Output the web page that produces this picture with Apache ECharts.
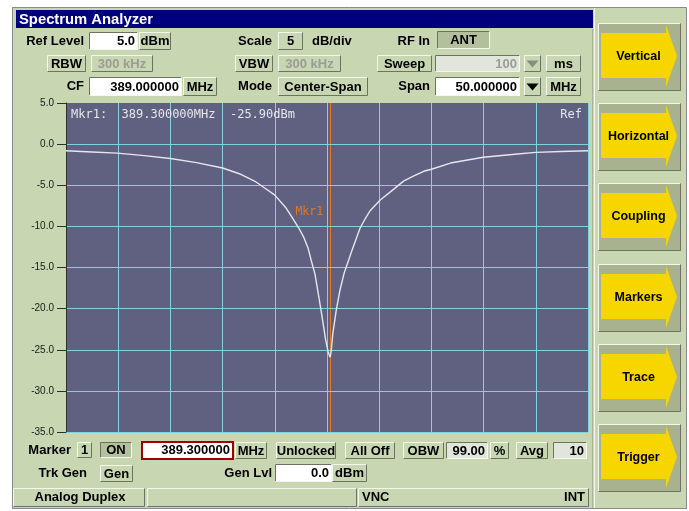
<!DOCTYPE html>
<html><head><meta charset="utf-8">
<script src="https://cdn.jsdelivr.net/npm/echarts@6/dist/echarts.min.js"></script>
<style>html,body{margin:0;padding:0;background:#fff;}#c{width:689px;height:511px;}</style>
</head><body><div id="c"></div>
<script>
const centerFreqMHz = 389.0;
const spanMHz = 50.0;
const refLevelDbm = 5.0;
const scaleDbPerDiv = 5;
const yDivisions = 8;
const markerFreqMHz = 389.3;
const markerLevelDbm = -25.90;
const markerLabelLevel = -8.2;
const traceFreqMHz = [364.0,366.5,368.9,371.5,374.0,376.5,379.0,380.6,382.2,383.1,384.0,385.1,385.7,386.3,386.8,387.2,387.46,387.85,388.26,388.52,388.87,389.1,389.2,389.3,389.4,389.56,389.9,390.25,390.66,391.1,391.37,391.8,392.17,392.65,393.13,394.1,395.37,396.33,397.27,398.26,399.0,400.83,403.97,407.24,409.0,411.4,414.0];
const traceLevelDbm = [-0.8,-0.95,-1.1,-1.4,-1.75,-2.25,-2.9,-3.6,-4.6,-5.4,-6.2,-7.8,-9.0,-10.2,-11.4,-12.7,-14.0,-15.8,-18.9,-20.9,-23.8,-25.2,-25.6,-25.9,-25.2,-23.0,-20.1,-17.7,-15.6,-14.0,-13.0,-11.5,-10.2,-9.1,-8.1,-6.8,-5.5,-4.5,-3.9,-3.3,-3.05,-2.3,-1.6,-1.2,-1.0,-0.9,-0.8];
const sideButtons = ['Vertical','Horizontal','Coupling','Markers','Trace','Trigger'];

// ---- styles ----
const C = {panel:'#c8d6b2', light:'#f4f8ec', dark:'#6b7460', pressed:'#b3bf9d', dis:'#e1e5dc',
  navy:'#00007f', yellow:'#f7d600', side:'#a9b28e', plot:'#606080', grid:'#7fd3df', trace:'#e6e6ee', mkr:'#e4781c'};
const SANS = '"Liberation Sans", Arial, sans-serif';
const MONO = '"DejaVu Sans Mono", monospace';

function T(x,y,text,o){ o=o||{}; return {type:'text', x:x, y:y, z:o.z||6, silent:true,
  style:{text:text, fill:o.color||'#000', fontSize:o.size||13, fontWeight:o.weight||'bold', fontFamily:o.family||SANS,
  align:o.align||'left', verticalAlign:'middle'}}; }
function box(x1,y1,x2,y2,fill,sunken){
  const tl = sunken?C.dark:C.light, br = sunken?C.light:C.dark;
  return [
    {type:'rect', z:3, silent:true, shape:{x:x1,y:y1,width:x2-x1,height:y2-y1}, style:{fill:fill}},
    {type:'polyline', z:4, silent:true, shape:{points:[[x1+0.5,y2-0.5],[x1+0.5,y1+0.5],[x2-0.5,y1+0.5]]}, style:{stroke:tl,lineWidth:1,fill:'none'}},
    {type:'polyline', z:4, silent:true, shape:{points:[[x1+0.5,y2-0.5],[x2-0.5,y2-0.5],[x2-0.5,y1+0.5]]}, style:{stroke:br,lineWidth:1,fill:'none'}}
  ];
}
function btn(x1,y1,x2,y2,text,o){ o=o||{};
  return box(x1,y1,x2,y2,o.fill||C.panel,!!o.sunken).concat([T((x1+x2)/2,(y1+y2)/2+0.5,text,{align:'center',color:o.color})]); }
function field(x1,y1,x2,y2,text,o){ o=o||{};
  return box(x1,y1,x2,y2,o.fill||'#ffffff',true).concat([T(x2-3,(y1+y2)/2+0.5,text,{align:'right',color:o.color})]); }
function drop(x1,y1,x2,y2,col){
  const cx=(x1+x2)/2, cy=(y1+y2)/2;
  return box(x1,y1,x2,y2,C.panel,false).concat([{type:'polygon', z:5, silent:true,
    shape:{points:[[cx-6,cy-3],[cx+6,cy-3],[cx,cy+4]]}, style:{fill:col}}]);
}

let g = [];
// window
g.push({type:'rect', z:0, silent:true, shape:{x:12,y:7,width:674,height:501}, style:{fill:C.panel}});
g.push({type:'polyline', z:1, silent:true, shape:{points:[[12.5,508],[12.5,7.5],[686.5,7.5],[686.5,508]]}, style:{stroke:'#8a8a8a',lineWidth:1,fill:'none'}});
g.push({type:'line', z:1, silent:true, shape:{x1:12,y1:508.5,x2:687,y2:508.5}, style:{stroke:'#8a8a8a',lineWidth:1}});
g.push({type:'rect', z:2, silent:true, shape:{x:16,y:10,width:577,height:18}, style:{fill:C.navy}});
g.push(T(19,19.5,'Spectrum Analyzer',{color:'#fff',size:14.8}));
g.push({type:'line', z:2, silent:true, shape:{x1:594.5,y1:8,x2:594.5,y2:508}, style:{stroke:C.light,lineWidth:1}});
g.push({type:'line', z:2, silent:true, shape:{x1:592.5,y1:29,x2:592.5,y2:508}, style:{stroke:'#aab596',lineWidth:1}});

// top rows
g.push(T(84,41,'Ref Level',{align:'right'}));
g = g.concat(field(89,32,138,50,refLevelDbm.toFixed(1)));
g = g.concat(btn(139,32,171,50,'dBm'));
g.push(T(272,41,'Scale',{align:'right'}));
g = g.concat(btn(278,32,303,50,String(scaleDbPerDiv)));
g.push(T(312,41,'dB/div'));
g.push(T(430,41,'RF In',{align:'right'}));
g = g.concat(btn(437,31,490,49,'ANT',{fill:C.pressed,sunken:true}));

g = g.concat(btn(47,55,86,72,'RBW'));
g = g.concat(btn(91,55,153,72,'300 kHz',{color:'#9a9c96'}));
g = g.concat(btn(235,55,273,72,'VBW'));
g = g.concat(btn(278,55,341,72,'300 kHz',{color:'#9a9c96'}));
g = g.concat(btn(377,55,432,72,'Sweep'));
g = g.concat(field(435,55,520,72,'100',{fill:C.dis,color:'#9a9c96'}));
g = g.concat(drop(524,55,541,72,'#8a8c86'));
g = g.concat(btn(546,55,581,72,'ms'));

g.push(T(84,86.5,'CF',{align:'right'}));
g = g.concat(field(89,77,182,96,centerFreqMHz.toFixed(6)));
g = g.concat(btn(183,77,217,96,'MHz'));
g.push(T(272,86.5,'Mode',{align:'right'}));
g = g.concat(btn(278,77,368,96,'Center-Span'));
g.push(T(430,86.5,'Span',{align:'right'}));
g = g.concat(field(435,77,520,96,spanMHz.toFixed(6)));
g = g.concat(drop(524,77,541,96,'#000'));
g = g.concat(btn(546,77,581,96,'MHz'));

// bottom rows
g.push(T(71,450,'Marker',{align:'right'}));
g = g.concat(btn(77,442,92,458,'1'));
g = g.concat(btn(100,442,132,458,'ON',{fill:C.pressed,sunken:true}));
g.push({type:'rect', z:3, silent:true, shape:{x:142,y:442,width:91,height:17}, style:{fill:'#fff',stroke:'#a00000',lineWidth:2}});
g.push(T(230,450.5,markerFreqMHz.toFixed(6),{align:'right'}));
g = g.concat(btn(235,442,267,459,'MHz'));
g = g.concat(btn(276,442,336,459,'Unlocked'));
g = g.concat(btn(345,442,395,459,'All Off'));
g = g.concat(btn(403,442,444,459,'OBW'));
g = g.concat(field(446,442,488,459,'99.00',{fill:C.dis}));
g = g.concat(btn(490,442,509,459,'%'));
g = g.concat(btn(516,442,548,459,'Avg'));
g = g.concat(field(553,442,587,459,'10',{fill:C.dis}));

g.push(T(87,473,'Trk Gen',{align:'right'}));
g = g.concat(btn(100,465,133,482,'Gen'));
g.push(T(272,473,'Gen Lvl',{align:'right'}));
g = g.concat(field(275,464,332,482,'0.0'));
g = g.concat(btn(332,464,367,482,'dBm'));

// status bar
g = g.concat(box(13,488,145,507,C.panel,false));
g.push(T(80,497.5,'Analog Duplex',{align:'center'}));
g = g.concat(box(147,488,357,507,C.panel,false));
g = g.concat(box(358,488,589,507,C.panel,false));
g.push(T(362,497.5,'VNC'));
g.push(T(585,497.5,'INT',{align:'right'}));

// side buttons
sideButtons.forEach(function(name,i){
  const t = Math.round(23 + i*80.2);
  g = g.concat(box(598,t,681,t+68,C.side,false));
  g.push({type:'polygon', z:5, silent:true, shape:{points:[[601,t+10],[666,t+10],[666,t+2],[677,t+33],[666,t+64],[666,t+55],[601,t+55]]}, style:{fill:C.yellow}});
  g.push(T(638.5,t+33.5,name,{align:'center',size:12.5}));
});

// marker readout text
g.push(T(71,115,'Mkr1:  '+markerFreqMHz.toFixed(6)+'MHz  '+markerLevelDbm.toFixed(2)+'dBm',{family:MONO,size:12,weight:'normal',color:'#e6e6ee',z:20}));
g.push(T(582,115,'Ref',{family:MONO,size:12,weight:'normal',color:'#e6e6ee',align:'right',z:20}));

const half = spanMHz/2, div = spanMHz/10;
const chart = echarts.init(document.getElementById('c'));
chart.setOption({
  animation:false,
  backgroundColor:'#ffffff',
  grid:{left:66, top:103, width:522, height:329, show:true, backgroundColor:C.plot, borderWidth:0, z:1},
  xAxis:{type:'value', min:-half, max:half, interval:div, z:8,
    axisLine:{show:false, onZero:false}, axisTick:{show:false}, axisLabel:{show:false},
    splitLine:{show:true, showMinLine:false, lineStyle:{color:C.grid, width:1}}},
  yAxis:{type:'value', min:refLevelDbm-scaleDbPerDiv*yDivisions, max:refLevelDbm, interval:scaleDbPerDiv, z:9,
    axisLine:{show:true, onZero:false, lineStyle:{color:'#303030', width:1}},
    axisTick:{show:true, length:9, lineStyle:{color:'#303030'}},
    axisLabel:{formatter:function(v){return v.toFixed(1);}, color:'#1a1a1a', fontSize:10, fontFamily:SANS, margin:12},
    splitLine:{show:true, showMaxLine:false, lineStyle:{color:C.grid, width:1}}},
  graphic:{elements:g},
  series:[{
    type:'line', showSymbol:false, symbol:'none', silent:true, z:12,
    data: traceFreqMHz.map(function(f,i){return [f-centerFreqMHz, traceLevelDbm[i]];}),
    lineStyle:{color:C.trace, width:1.4},
    markLine:{silent:true, symbol:['none','none'], label:{show:false},
      lineStyle:{color:C.mkr, width:1, type:'solid'},
      data:[{xAxis: markerFreqMHz-centerFreqMHz}]},
    markPoint:{silent:true, symbol:'circle', symbolSize:0, itemStyle:{color:'rgba(0,0,0,0)'},
      label:{show:true, position:'left', distance:7, formatter:'Mkr1', color:C.mkr, fontFamily:MONO, fontSize:11.5},
      data:[{coord:[markerFreqMHz-centerFreqMHz, markerLabelLevel]}]}
  }]
});
</script></body></html>
